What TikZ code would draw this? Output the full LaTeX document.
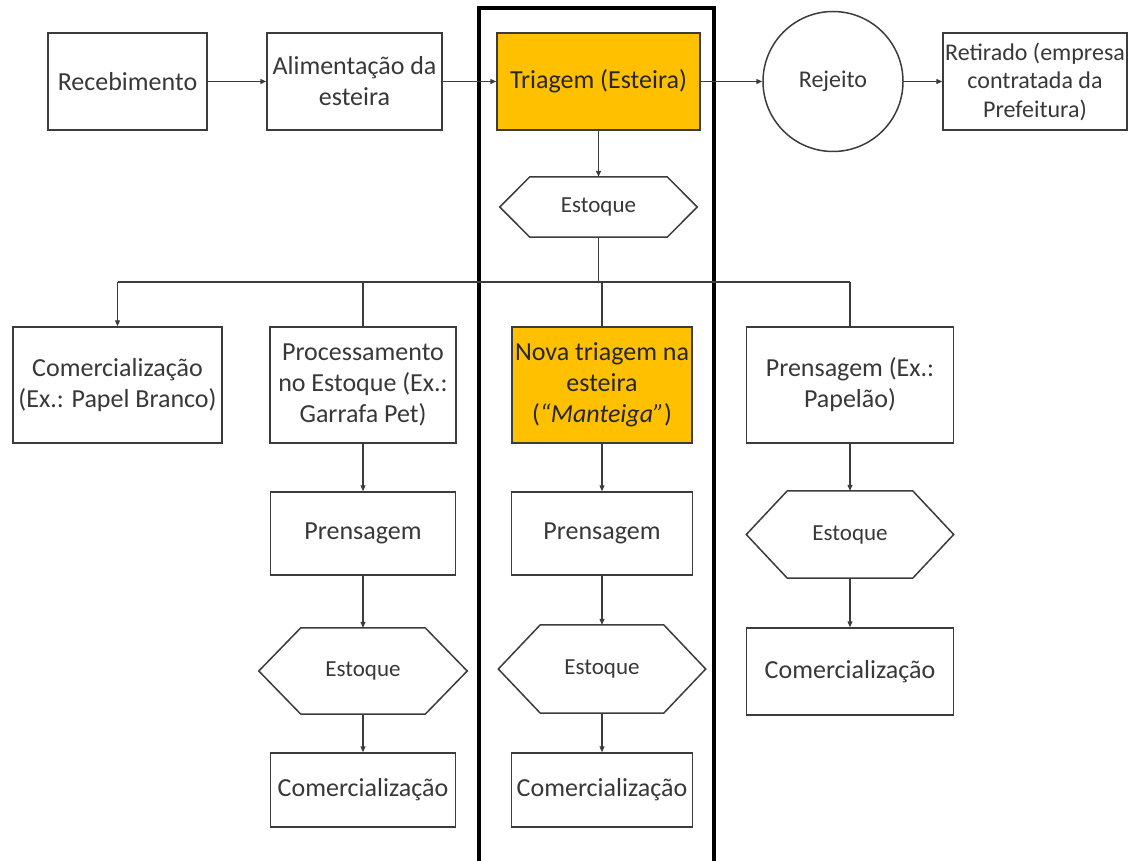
\documentclass[tikz,border=0pt]{standalone}
\usepackage{fontspec}
\setmainfont{Carlito}
\usetikzlibrary{arrows.meta,calc}
\definecolor{gold}{HTML}{FFC000}
\definecolor{ink}{HTML}{383838}
\definecolor{edge}{HTML}{3C3C3C}

% outline of a stock (hexagon) drawn around a plain node
\newcommand\stockoutline[2]{%
  \draw[outline] ($(#1.north west)+(#2,0)$) -- ($(#1.north east)+(-#2,0)$) -- (#1.east)
    -- ($(#1.south east)+(-#2,0)$) -- ($(#1.south west)+(#2,0)$) -- (#1.west) -- cycle;}

\begin{document}
\begin{tikzpicture}[x=1pt,y=-1pt,
  base/.style={inner sep=0pt, align=center, text=ink, font=\fontsize{26}{31}\selectfont},
  box/.style={base, rectangle, draw=edge, line width=1.5pt},
  hot/.style={box, fill=gold, text=black!85},
  stock/.style={base, rectangle, font=\fontsize{23}{28}\selectfont},
  outline/.style={draw=edge, line width=1.5pt, line join=miter},
  link/.style={draw=edge, line width=1.2pt},
  flow/.style={link, -{Triangle[length=6pt,width=5pt]}},
  frame/.style={draw=black, line width=4pt, line join=miter}
]
\useasboundingbox (0,0) rectangle (1129,861);
\fill[white] (0,0) rectangle (1129,861);

% highlighted column
\draw[frame] (479,866) -- (479,8) -- (714,8) -- (714,866);

% top row
\node[box, minimum width=159pt, minimum height=97pt] (rec) at (127.5,81.5) {Recebimento};
\node[box, minimum width=175pt, minimum height=97pt] (ali) at (354.5,81.5) {Alimentação da\\esteira};
\node[hot, minimum width=203pt, minimum height=97pt] (tri) at (598.5,81.5) {Triagem (Esteira)};
\node[box, circle, minimum size=140pt, font=\fontsize{24}{29}\selectfont] (rej) at (833,81.5) {Rejeito};
\node[box, minimum width=184pt, minimum height=97pt, font=\fontsize{24}{28.5}\selectfont] (ret) at (1035,81.5)
  {Retirado (empresa\\contratada da\\Prefeitura)};

\node[stock, minimum width=197pt, minimum height=60pt] (est1) at (598.5,207) {Estoque};
\stockoutline{est1}{30}

% second row
\node[box, minimum width=209pt, minimum height=116pt] (comB) at (117.5,385) {Comercialização\\(Ex.: Papel Branco)};
\node[box, minimum width=186pt, minimum height=116pt] (proc) at (363,385) {Processamento\\no Estoque (Ex.:\\Garrafa Pet)};
\node[hot, minimum width=180pt, minimum height=116pt] (nova) at (602,385) {Nova triagem na\\esteira\\(\textit{“Manteiga”})};
\node[box, minimum width=207pt, minimum height=116pt] (prensP) at (850,385) {Prensagem (Ex.:\\Papelão)};

% left column
\node[box, minimum width=185pt, minimum height=83pt] (prensL) at (363,533.5) {Prensagem};
\node[stock, minimum width=208pt, minimum height=86pt] (estL) at (363,671) {Estoque};
\stockoutline{estL}{42}
\node[box, minimum width=185pt, minimum height=74pt] (comL) at (363,790) {Comercialização};

% middle column
\node[box, minimum width=181pt, minimum height=83pt] (prensM) at (602,533.5) {Prensagem};
\node[stock, minimum width=207pt, minimum height=88pt] (estM) at (602,669) {Estoque};
\stockoutline{estM}{42}
\node[box, minimum width=181pt, minimum height=74pt] (comM) at (602,790) {Comercialização};

% right column
\node[stock, minimum width=207pt, minimum height=87pt] (estR) at (850,534.5) {Estoque};
\stockoutline{estR}{41}
\node[box, minimum width=207pt, minimum height=87pt] (comR) at (850,671.5) {Comercialização};

% connectors
\draw[flow] (rec) -- (ali);
\draw[flow] (ali) -- (tri);
\draw[flow] (tri) -- (rej);
\draw[flow] (rej) -- (ret);
\draw[flow] (tri) -- (est1);

\coordinate (split) at (598.5,282);
\coordinate (bl) at (117.5,282);
\coordinate (brr) at (850,282);
\draw[link] (est1) -- (split);
\draw[link] (bl) -- (brr);
\draw[flow] (bl) -- (comB);
\draw[link] (proc.north |- split) -- (proc);
\draw[link] (nova.north |- split) -- (nova);
\draw[link] (brr) -- (prensP);

\draw[flow] (proc) -- (prensL);
\draw[flow] (prensL) -- (estL);
\draw[flow] (estL) -- (comL);
\draw[flow] (nova) -- (prensM);
\draw[flow] (prensM) -- (estM);
\draw[flow] (estM) -- (comM);
\draw[flow] (prensP) -- (estR);
\draw[flow] (estR) -- (comR);
\end{tikzpicture}
\end{document}
